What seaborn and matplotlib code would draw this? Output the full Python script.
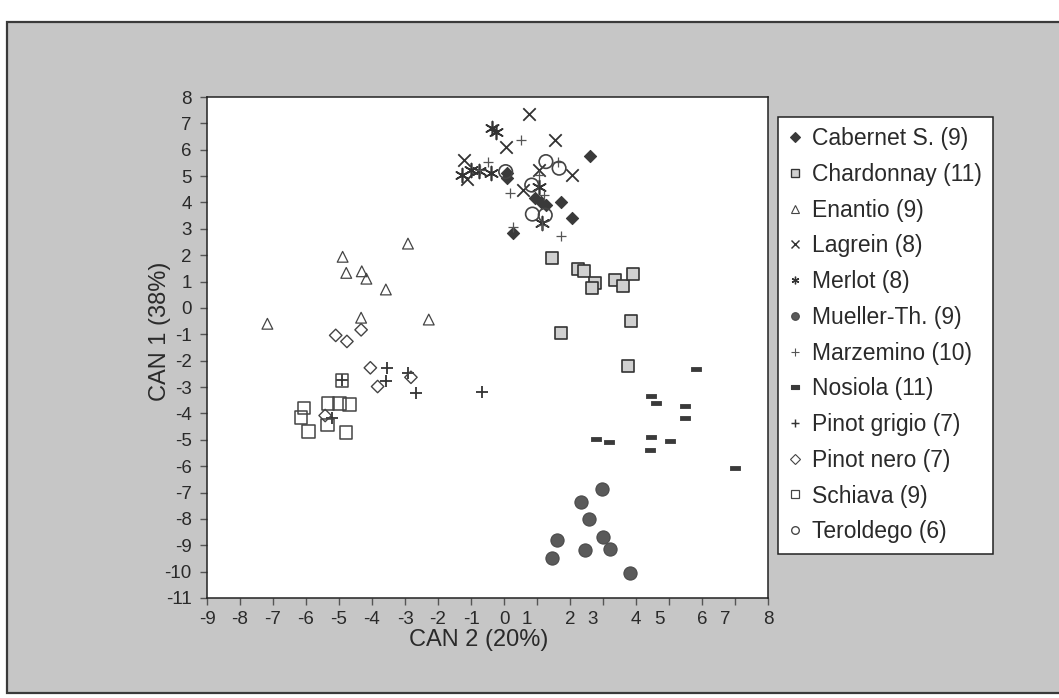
import numpy as np
import matplotlib
matplotlib.use("Agg")
import matplotlib.pyplot as plt
import matplotlib.transforms as mtransforms
from matplotlib.patches import Rectangle
from matplotlib.lines import Line2D
import seaborn as sns

# ---------------- data ----------------
cabernet_x = [2.61, 0.08, 0.94, 1.12, 1.28, 1.72, 2.06, 0.28, 0.10]
cabernet_y = [5.78, 5.11, 4.16, 4.03, 3.90, 4.00, 3.42, 2.83, 4.93]

chardonnay_x = [1.45, 2.23, 2.41, 2.76, 2.68, 3.36, 3.62, 3.90, 3.85, 1.72, 3.75]
chardonnay_y = [1.90, 1.47, 1.40, 0.96, 0.76, 1.05, 0.82, 1.27, -0.50, -0.95, -2.21]

enantio_x = [-2.91, -4.89, -4.78, -4.31, -4.17, -3.58, -7.17, -4.33, -2.28]
enantio_y = [2.44, 1.94, 1.33, 1.39, 1.11, 0.70, -0.60, -0.37, -0.44]

lagrein_x = [0.76, 0.07, 1.55, -1.22, -1.12, 0.58, 2.06, 1.06]
lagrein_y = [7.35, 6.10, 6.37, 5.61, 4.88, 4.47, 5.04, 5.23]

merlot_x = [-0.25, -0.36, -1.27, -0.76, -0.40, 1.06, 1.16, -1.00]
merlot_y = [6.69, 6.83, 5.04, 5.19, 5.13, 4.60, 3.21, 5.23]

mueller_x = [2.98, 2.33, 2.58, 2.99, 1.60, 2.44, 3.20, 1.46, 3.81]
mueller_y = [-6.87, -7.35, -8.01, -8.68, -8.81, -9.18, -9.15, -9.50, -10.04]

marzemino_x = [0.51, 0.17, 1.74, -0.49, 1.16, 0.28, 1.65, -0.73, 1.06, 1.22]
marzemino_y = [6.37, 4.35, 2.73, 5.55, 3.14, 3.08, 5.55, 5.23, 5.04, 4.28]

nosiola_x = [5.81, 4.44, 4.61, 5.48, 5.48, 2.79, 3.17, 4.46, 5.02, 4.42, 7.01]
nosiola_y = [-2.31, -3.35, -3.60, -3.70, -4.19, -4.97, -5.07, -4.88, -5.05, -5.37, -6.07]

pgrigio_x = [-3.54, -3.59, -2.66, -0.68, -5.22, -2.90, -4.91]
pgrigio_y = [-2.27, -2.78, -3.22, -3.20, -4.17, -2.47, -2.75]

pnero_x = [-5.10, -4.76, -4.33, -4.05, -3.83, -2.82, -5.42]
pnero_y = [-1.04, -1.27, -0.83, -2.27, -2.98, -2.63, -4.08]

schiava_x = [-4.91, -5.33, -4.99, -4.68, -6.06, -6.15, -5.35, -5.93, -4.78]
schiava_y = [-2.75, -3.62, -3.62, -3.66, -3.79, -4.15, -4.44, -4.68, -4.72]

teroldego_x = [1.27, 1.67, 0.84, 0.86, 1.25, 0.05]
teroldego_y = [5.55, 5.30, 4.66, 3.56, 3.52, 5.17]

labels = ["Cabernet S. (9)", "Chardonnay (11)", "Enantio (9)", "Lagrein (8)",
          "Merlot (8)", "Mueller-Th. (9)", "Marzemino (10)", "Nosiola (11)",
          "Pinot grigio (7)", "Pinot nero (7)", "Schiava (9)", "Teroldego (6)"]
x_ticks = list(range(-9, 9))
y_ticks = list(range(-11, 9))

# ---------------- styling ----------------
sns.set_theme(style="white")
plt.rcParams["font.family"] = ["Liberation Sans", "DejaVu Sans"]
txt = "#2a2a2a"

nos_marker = [(-1, -0.45), (1, -0.45), (1, 0.45), (-1, 0.45), (-1, -0.45)]
dark = "#333333"
styles = [
    dict(marker="D", s=38, fc="#3a3a3a", ec="#3a3a3a", lw=0.8),
    dict(marker="s", s=75, fc="#d0d0d0", ec=dark, lw=1.2),
    dict(marker="^", s=60, fc="none", ec="#444444", lw=0.9),
    dict(marker="x", s=80, fc=dark, ec=dark, lw=1.3),
    dict(marker=(6, 2, 0), s=100, fc=dark, ec=dark, lw=1.2),
    dict(marker="o", s=90, fc="#5a5a5a", ec="#4a4a4a", lw=0.8),
    dict(marker="+", s=50, fc="#555555", ec="#555555", lw=0.9),
    dict(marker=nos_marker, s=45, fc="#3a3a3a", ec="#3a3a3a", lw=0.6),
    dict(marker="+", s=80, fc=dark, ec=dark, lw=1.3),
    dict(marker="D", s=40, fc="none", ec="#444444", lw=1.0),
    dict(marker="s", s=80, fc="none", ec="#444444", lw=1.1),
    dict(marker="o", s=95, fc="none", ec="#444444", lw=1.2),
]
series = [(cabernet_x, cabernet_y), (chardonnay_x, chardonnay_y), (enantio_x, enantio_y),
          (lagrein_x, lagrein_y), (merlot_x, merlot_y), (mueller_x, mueller_y),
          (marzemino_x, marzemino_y), (nosiola_x, nosiola_y), (pgrigio_x, pgrigio_y),
          (pnero_x, pnero_y), (schiava_x, schiava_y), (teroldego_x, teroldego_y)]

fig = plt.figure(figsize=(10.59, 6.98), dpi=100)
fig.patch.set_facecolor("white")
W, H = 1059, 698
# grey outer frame
fig.patches.append(Rectangle((7 / W, 1 - 693 / H), (1070 - 7) / W, (693 - 22) / H,
                             transform=fig.transFigure, facecolor="#c6c6c6",
                             edgecolor="#3a3a3a", lw=1.6, zorder=-10))

ax = fig.add_axes([207 / W, 1 - 598 / H, (768 - 207) / W, (598 - 97) / H])
ax.set_zorder(2)
ax.set_facecolor("white")

for (xs, ys), st in zip(series, styles):
    sns.scatterplot(x=xs, y=ys, ax=ax, marker=st["marker"], s=st["s"],
                    facecolor=st["fc"], edgecolor=st["ec"], linewidth=st["lw"],
                    legend=False, zorder=3)

ax.set_xlim(-9, 8)
ax.set_ylim(-11, 8)
ax.set_xticks(x_ticks)
ax.set_yticks(y_ticks)
ax.set_xticklabels([str(v) for v in x_ticks])
ax.set_yticklabels([str(v) for v in y_ticks])
ax.tick_params(axis="both", which="major", direction="out", length=5, width=1,
               color="#555555", labelsize=13.5, labelcolor=txt, left=True, bottom=True)
ax.tick_params(axis="y", pad=6)
ax.tick_params(axis="x", pad=4)

# odd positive labels sit a little left in the reference
shift = mtransforms.ScaledTranslation(-10 / 100, 0, fig.dpi_scale_trans)
for v, lab in zip(x_ticks, ax.get_xticklabels()):
    if v > 0 and v % 2 == 1:
        lab.set_transform(lab.get_transform() + shift)

for sp in ax.spines.values():
    sp.set_visible(True)
    sp.set_color("#222222")
    sp.set_linewidth(1.1)

ax.set_xlabel("CAN 2 (20%)", fontsize=17, color=txt)
ax.set_ylabel("CAN 1 (38%)", fontsize=17, color=txt)
ax.xaxis.set_label_coords(0.485, -0.062)
ax.yaxis.set_label_coords(-0.064, 0.533)

# legend
handles = []
for st, lab in zip(styles, labels):
    ms = 5.5
    if st["marker"] in ("s",) and st["fc"] != "none":
        ms = 6
    handles.append(Line2D([], [], linestyle="none", marker=st["marker"], markersize=ms,
                          markerfacecolor=st["fc"], markeredgecolor=st["ec"],
                          markeredgewidth=max(0.8, st["lw"] * 0.8), label=lab))
leg = fig.legend(handles=handles, loc="upper left",
                 bbox_to_anchor=(778 / W, 1 - 117 / H), fontsize=16.5,
                 frameon=True, fancybox=False, framealpha=1, edgecolor="#222222",
                 handlelength=0.6, handletextpad=0.45, labelspacing=0.555,
                 borderpad=0.45, borderaxespad=0)
leg.set_zorder(5)
leg.get_frame().set_linewidth(1.1)
for t in leg.get_texts():
    t.set_color(txt)

fig.savefig("out.png", dpi=100, facecolor=fig.get_facecolor())
